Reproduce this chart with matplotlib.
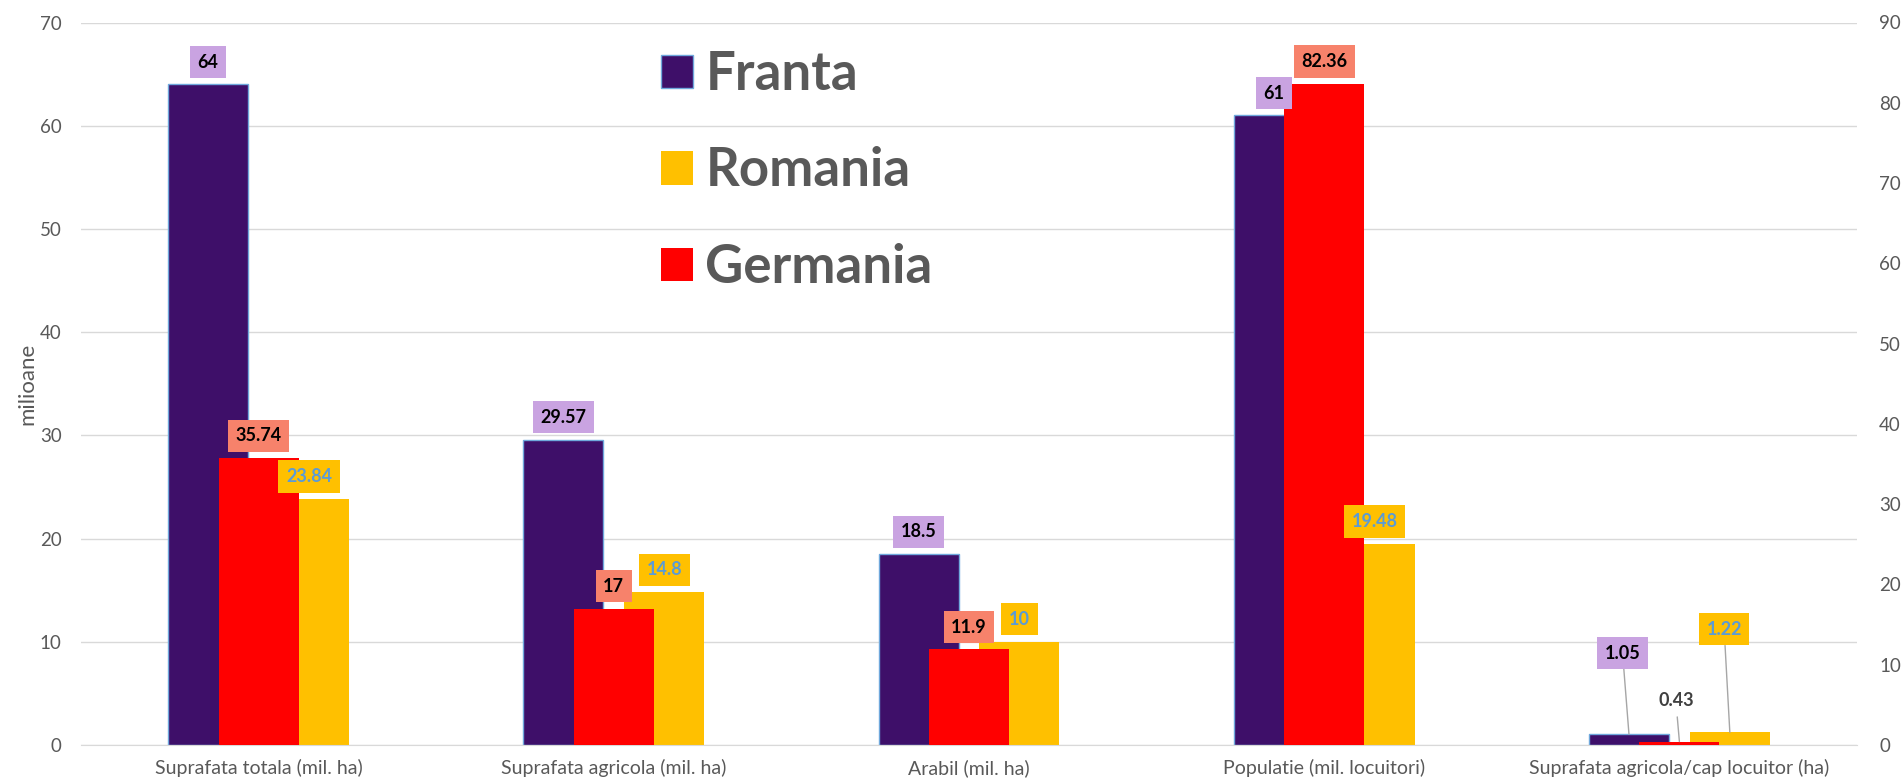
import matplotlib
matplotlib.use("Agg")
import matplotlib.pyplot as plt
import numpy as np

# data
categories = ["Suprafata totala (mil. ha)", "Suprafata agricola (mil. ha)", "Arabil (mil. ha)",
              "Populatie (mil. locuitori)", "Suprafata agricola/cap locuitor (ha)"]
franta = [64, 29.57, 18.5, 61, 1.05]
romania = [23.84, 14.8, 10, 19.48, 1.22]
germania = [35.74, 17, 11.9, 82.36, 0.43]   # secondary axis

# styles
c_franta = "#3E0F69"
c_romania = "#FFC000"
c_germania = "#FF0000"
box_franta = "#C9A3E1"
box_germania = "#F7826B"
gray = "#595959"
grid_c = "#D9D9D9"

plt.rcParams["font.family"] = ["Lato", "DejaVu Sans"]

fig = plt.figure(figsize=(19.03, 7.84), dpi=100)
ax = fig.add_axes([81 / 1903, 39 / 784, 1776 / 1903, 722.5 / 784])
ax2 = ax.twinx()

x = np.arange(len(categories))
w = 0.225
off = 0.142

ax.bar(x - off, franta, w, color=c_franta, edgecolor="#6FA8DC", linewidth=1, zorder=2, label="Franta")
ax.bar(x + off, romania, w, color=c_romania, zorder=2, label="Romania")
ax2.bar(x, germania, w, color=c_germania, zorder=2, label="Germania")

ax.set_xlim(-0.5, len(categories) - 0.5)
ax.set_ylim(0, 70)
ax2.set_ylim(0, 90)
ax.set_yticks(range(0, 71, 10))
ax2.set_yticks(range(0, 91, 10))
ax.set_xticks(x)
ax.set_xticklabels(categories, fontsize=14, color=gray)
ax.grid(axis="y", color=grid_c, linewidth=1, zorder=0)
ax.set_axisbelow(True)
for a in (ax, ax2):
    for s in a.spines.values():
        s.set_visible(False)
ax.spines["bottom"].set_visible(True)
ax.spines["bottom"].set_color(grid_c)
ax.tick_params(axis="y", length=0, pad=14, labelsize=13.5, labelcolor=gray)
ax.tick_params(axis="x", length=0, pad=10)
ax2.tick_params(axis="y", length=0, pad=16, labelsize=13.5, labelcolor=gray)
ax.set_ylabel("milioane", fontsize=16, color=gray, labelpad=2)

# data labels (drawn on ax2 so they sit on top of all bars)
fs = 13
bstyle = "square,pad=0.42"


def label(xv, yv, txt, trans, fc, tc, dy=10):
    ax2.annotate(txt, xy=(xv, yv), xycoords=trans, xytext=(0, dy), textcoords="offset points",
                 ha="center", va="bottom", fontsize=fs, fontweight="bold", color=tc,
                 bbox=dict(boxstyle=bstyle, fc=fc, ec="none"), zorder=5)


line = dict(arrowstyle="-", color="#A6A6A6", lw=1, shrinkA=0, shrinkB=0)
for i in range(len(categories) - 1):
    label(x[i] - off, franta[i], f"{franta[i]:g}", ax.transData, box_franta, "black")
    label(x[i] + off, romania[i], f"{romania[i]:g}", ax.transData, c_romania, "#5B9BD5")
    label(x[i], germania[i], f"{germania[i]:g}", ax2.transData, box_germania, "black")

# last category: labels pulled out with leader lines
i = len(categories) - 1
ax2.annotate(f"{franta[i]:g}", xy=(x[i] - off, franta[i]), xycoords=ax.transData,
             xytext=(x[i] - 0.16, 8.9), textcoords=ax.transData, ha="center", va="center",
             fontsize=fs, fontweight="bold", color="black",
             bbox=dict(boxstyle=bstyle, fc=box_franta, ec="none"), arrowprops=line, zorder=5)
ax2.annotate(f"{romania[i]:g}", xy=(x[i] + off, romania[i]), xycoords=ax.transData,
             xytext=(x[i] + 0.126, 11.2), textcoords=ax.transData, ha="center", va="center",
             fontsize=fs, fontweight="bold", color="#5B9BD5",
             bbox=dict(boxstyle=bstyle, fc=c_romania, ec="none"), arrowprops=line, zorder=5)
ax2.annotate(f"{germania[i]:g}", xy=(x[i], germania[i]), xycoords=ax2.transData,
             xytext=(x[i] - 0.01, 5.5), textcoords=ax2.transData, ha="center", va="center",
             fontsize=fs, fontweight="bold", color="#404040",
             bbox=dict(boxstyle=bstyle, fc="none", ec="none"), arrowprops=line, zorder=5)

# legend
h1, l1 = ax.get_legend_handles_labels()
h2, l2 = ax2.get_legend_handles_labels()
leg = ax2.legend(h1 + h2, l1 + l2, loc="upper left", bbox_to_anchor=(661 / 1903, 1 - 50 / 784),
                 bbox_transform=fig.transFigure, frameon=False, fontsize=38,
                 handlelength=0.6, handleheight=0.6, handletextpad=0.24, labelspacing=0.9,
                 borderpad=0, borderaxespad=0)
for t in leg.get_texts():
    t.set_fontweight("bold")
    t.set_color(gray)
leg.set_zorder(10)

fig.savefig("out.png", dpi=100)
